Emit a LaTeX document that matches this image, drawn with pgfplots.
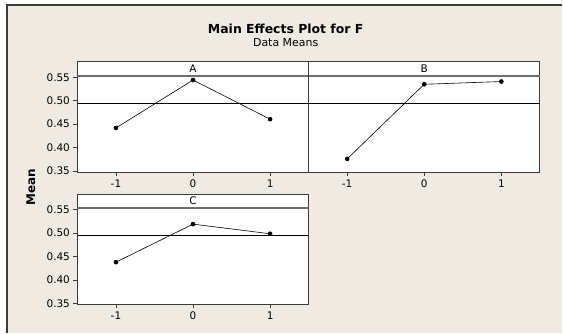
\documentclass[border=0pt]{standalone}
\usepackage{fontspec}
\setmainfont{DejaVu Sans}
\usepackage{pgfplots}
\pgfplotsset{compat=1.18}

\definecolor{bgbeige}{RGB}{239,235,226}
\definecolor{framegray}{RGB}{60,60,60}
\definecolor{stripgray}{RGB}{110,110,110}

\pgfplotsset{
  mepanel/.style={
    anchor=north west,
    scale only axis,
    width=231.5bp, height=110.5bp,
    xmin=-1.5, xmax=1.5,
    ymin=0.3479, ymax=0.5830,
    xtick={-1,0,1},
    ytick={0.35,0.40,0.45,0.50,0.55},
    tick align=outside,
    xtick pos=bottom, ytick pos=left,
    major tick length=4bp,
    axis line style={framegray, line width=0.9pt},
    tick style={framegray, line width=0.6pt},
    axis background/.style={fill=white},
    ticklabel style={font=\fontsize{10.5}{12}\selectfont},
    /pgf/number format/assume math mode=true,
    yticklabel style={/pgf/number format/.cd, fixed, fixed zerofill, precision=2},
    xticklabels={-1,0,1},
  },
  meanline/.style={black, line width=0.6pt, forget plot},
  effect/.style={black, line width=0.6pt, mark=*, mark size=2pt},
}
% strip with the factor name at the top of a panel
\newcommand{\strip}[1]{%
  \draw[stripgray, line width=1.4pt] (axis cs:-1.5,0.5530) -- (axis cs:1.5,0.5530);
  \node[font=\fontsize{10.5}{12}\selectfont, inner sep=0pt] at (axis cs:0,0.5680) {#1};
}

\begin{document}
\begin{tikzpicture}
% window background
\path[fill=white] (0,0) rectangle (563bp,-333bp);
\fill[bgbeige] (7bp,-5bp) rectangle (563bp,-333bp);
\draw[framegray, line width=1.3pt] (7bp,-333bp) -- (7bp,-5bp) -- (563bp,-5bp);

\node[font=\bfseries\fontsize{12.5}{14}\selectfont] at (286bp,-28.5bp) {Main Effects Plot for F};
\node[font=\fontsize{11}{13}\selectfont] at (286bp,-43bp) {Data Means};
\node[font=\bfseries\fontsize{12}{14}\selectfont, rotate=90] at (31bp,-187bp) {Mean};

% panel A
\begin{axis}[mepanel, at={(77.5bp,-61.8bp)}]
\strip{A}
\addplot[meanline] coordinates {(-1.5,0.4952) (1.5,0.4952)};
\addplot[effect] coordinates {(-1,0.442) (0,0.544) (1,0.4606)};
\end{axis}

% panel B
\begin{axis}[mepanel, at={(309bp,-61.8bp)}, ytick=\empty]
\strip{B}
\addplot[meanline] coordinates {(-1.5,0.4952) (1.5,0.4952)};
\addplot[effect] coordinates {(-1,0.376) (0,0.535) (1,0.5408)};
\end{axis}

% panel C
\begin{axis}[mepanel, at={(77.5bp,-194.3bp)}]
\strip{C}
\addplot[meanline] coordinates {(-1.5,0.4952) (1.5,0.4952)};
\addplot[effect] coordinates {(-1,0.438) (0,0.519) (1,0.4985)};
\end{axis}
\end{tikzpicture}
\end{document}
